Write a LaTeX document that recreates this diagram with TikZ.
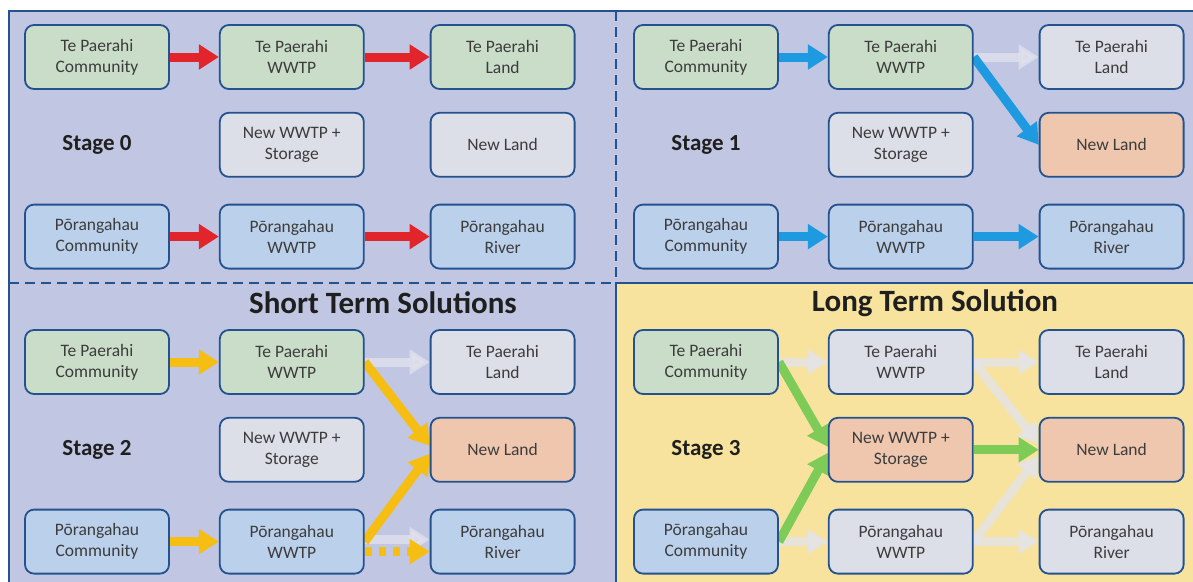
\documentclass[tikz,border=0pt]{standalone}
\usepackage{fontspec}
\setmainfont{Carlito}
\usepackage{xcolor}
\usepackage{tikz}
\usetikzlibrary{positioning}
\usetikzlibrary{backgrounds}
\usetikzlibrary{arrows.meta}

\definecolor{frameblue}{HTML}{24528F}
\definecolor{panelbg}{HTML}{C1C6E2}
\definecolor{longbg}{HTML}{F7E39D}
\definecolor{tpgreen}{HTML}{C9DDC8}
\definecolor{poblue}{HTML}{BBD0EB}
\definecolor{idlegray}{HTML}{DCDEE8}
\definecolor{newpeach}{HTML}{EEC7AE}
\definecolor{flowred}{HTML}{E2252B}
\definecolor{flowblue}{HTML}{1E9BE0}
\definecolor{flowgold}{HTML}{F6BE12}
\definecolor{flowgreen}{HTML}{7FCB57}
\definecolor{fadegray}{HTML}{E2E3EE}
\definecolor{boxtext}{HTML}{3C3C3C}

\pgfdeclarelayer{panels}
\pgfsetlayers{panels,background,main}

\begin{document}
\begin{tikzpicture}[
    x=1pt, y=-1pt,
    node distance=22pt and 49pt,
    box/.style={draw=frameblue, line width=1.8pt, rounded corners=9pt, align=center,
                minimum width=144pt, minimum height=64pt, inner sep=2pt,
                text=boxtext, font=\fontsize{17.5}{21}\selectfont},
    tp/.style={box, fill=tpgreen},
    po/.style={box, fill=poblue},
    idle/.style={box, fill=idlegray},
    new/.style={box, fill=newpeach},
    stagelbl/.style={font=\bfseries\fontsize{23}{26}\selectfont, text=black!88},
    title/.style={font=\bfseries\fontsize{31}{34}\selectfont, text=black!88},
    flow/.style={line width=9pt, -{Triangle[width=24pt,length=20pt]}},
    faded/.style={flow, draw=fadegray, opacity=0.75},
    divider/.style={draw=frameblue, line width=1.8pt},
    >=stealth
  ]
    \useasboundingbox (0,0) rectangle (1193,581);

    % Stage 0 (haut gauche)
    \node[tp] (a-tpc) at (97,57) {Te Paerahi\\Community};
    \node[tp, right=49pt of a-tpc] (a-tpw) {Te Paerahi\\WWTP};
    \node[tp, right=65pt of a-tpw] (a-tpl) {Te Paerahi\\Land};
    \node[idle, below=22pt of a-tpw] (a-nw) {New WWTP +\\Storage};
    \node[idle, below=22pt of a-tpl] (a-nl) {New Land};
    \node[po, below=26pt of a-nw] (a-pw) {Pōrangahau\\WWTP};
    \node[po, left=49pt of a-pw] (a-pc) {Pōrangahau\\Community};
    \node[po, below=26pt of a-nl] (a-pr) {Pōrangahau\\River};
    \node[stagelbl] (a-stage) at (a-tpc |- a-nw) {Stage 0};

    % Stage 1 (haut droite)
    \node[tp] (b-tpc) at (706,57) {Te Paerahi\\Community};
    \node[tp, right=49pt of b-tpc] (b-tpw) {Te Paerahi\\WWTP};
    \node[idle, right=65pt of b-tpw] (b-tpl) {Te Paerahi\\Land};
    \node[idle, below=22pt of b-tpw] (b-nw) {New WWTP +\\Storage};
    \node[new, below=22pt of b-tpl] (b-nl) {New Land};
    \node[po, below=26pt of b-nw] (b-pw) {Pōrangahau\\WWTP};
    \node[po, left=49pt of b-pw] (b-pc) {Pōrangahau\\Community};
    \node[po, below=26pt of b-nl] (b-pr) {Pōrangahau\\River};
    \node[stagelbl] (b-stage) at (b-tpc |- b-nw) {Stage 1};

    % Stage 2 (bas gauche)
    \node[title] (short) at (383,303) {Short Term Solutions};
    \node[tp] (c-tpc) at (97,362) {Te Paerahi\\Community};
    \node[tp, right=49pt of c-tpc] (c-tpw) {Te Paerahi\\WWTP};
    \node[idle, right=65pt of c-tpw] (c-tpl) {Te Paerahi\\Land};
    \node[idle, below=22pt of c-tpw] (c-nw) {New WWTP +\\Storage};
    \node[new, below=22pt of c-tpl] (c-nl) {New Land};
    \node[po, below=26pt of c-nw] (c-pw) {Pōrangahau\\WWTP};
    \node[po, left=49pt of c-pw] (c-pc) {Pōrangahau\\Community};
    \node[po, below=26pt of c-nl] (c-pr) {Pōrangahau\\River};
    \node[stagelbl] (c-stage) at (c-tpc |- c-nw) {Stage 2};

    % Stage 3 (bas droite)
    \node[title] (long) at (935,303) {Long Term Solution};
    \node[tp] (d-tpc) at (706,362) {Te Paerahi\\Community};
    \node[idle, right=49pt of d-tpc] (d-tpw) {Te Paerahi\\WWTP};
    \node[idle, right=65pt of d-tpw] (d-tpl) {Te Paerahi\\Land};
    \node[new, below=22pt of d-tpw] (d-nw) {New WWTP +\\Storage};
    \node[new, below=22pt of d-tpl] (d-nl) {New Land};
    \node[idle, below=26pt of d-nw] (d-pw) {Pōrangahau\\WWTP};
    \node[po, left=49pt of d-pw] (d-pc) {Pōrangahau\\Community};
    \node[idle, below=26pt of d-nl] (d-pr) {Pōrangahau\\River};
    \node[stagelbl] (d-stage) at (d-tpc |- d-nw) {Stage 3};

    \begin{pgfonlayer}{panels}
      % Fonds et séparations
      \fill[panelbg] (9,11) rectangle (1196,584);
      \fill[longbg] (616,283) rectangle (1196,584);
      \draw[divider, dash pattern=on 10pt off 6pt] (9,283) -- (616,283);
      \draw[divider, dash pattern=on 10pt off 6pt] (616,11) -- (616,283);
      \draw[divider] (1196,283) -| (616,584);
      \draw[divider] (9,584) |- (1196,11);
    \end{pgfonlayer}

    \begin{pgfonlayer}{background}
      % Stage 0
      \draw[flow, draw=flowred] (a-tpc) -- (a-tpw);
      \draw[flow, draw=flowred] (a-tpw) -- (a-tpl);
      \draw[flow, draw=flowred] (a-pc) -- (a-pw);
      \draw[flow, draw=flowred] (a-pw) -- (a-pr);

      % Stage 1
      \draw[faded] (b-tpw) -- (b-tpl);
      \draw[flow, draw=flowblue] (b-tpc) -- (b-tpw);
      \draw[flow, draw=flowblue] (b-tpw.east) -- (b-nl.west);
      \draw[flow, draw=flowblue] (b-pc) -- (b-pw);
      \draw[flow, draw=flowblue] (b-pw) -- (b-pr);

      % Stage 2
      \draw[faded] (c-tpw) -- (c-tpl);
      \draw[faded] ([yshift=2pt]c-pw.east) -- ([yshift=2pt]c-pr.west);
      \draw[flow, draw=flowgold] (c-tpc) -- (c-tpw);
      \draw[flow, draw=flowgold] (c-pc) -- (c-pw);
      \draw[flow, draw=flowgold] (c-tpw.east) -- ([yshift=4pt]c-nl.west);
      \draw[flow, draw=flowgold] (c-pw.east) -- ([yshift=-4pt]c-nl.west);
      \draw[flow, draw=flowgold, dash pattern=on 7pt off 7pt] ([yshift=-10pt]c-pw.east) -- ([yshift=-10pt]c-pr.west);

      % Stage 3
      \draw[faded] (d-tpc) -- (d-tpw);
      \draw[faded] (d-pc) -- (d-pw);
      \draw[faded] (d-tpw) -- (d-tpl);
      \draw[faded] (d-pw) -- (d-pr);
      \draw[faded] (d-tpw.east) -- ([yshift=6pt]d-nl.west);
      \draw[faded] (d-pw.east) -- ([yshift=-6pt]d-nl.west);
      \draw[flow, draw=flowgreen] (d-tpc.east) -- ([yshift=3pt]d-nw.west);
      \draw[flow, draw=flowgreen] (d-pc.east) -- ([yshift=-3pt]d-nw.west);
      \draw[flow, draw=flowgreen] (d-nw) -- (d-nl);
    \end{pgfonlayer}

  \end{tikzpicture}
\end{document}
